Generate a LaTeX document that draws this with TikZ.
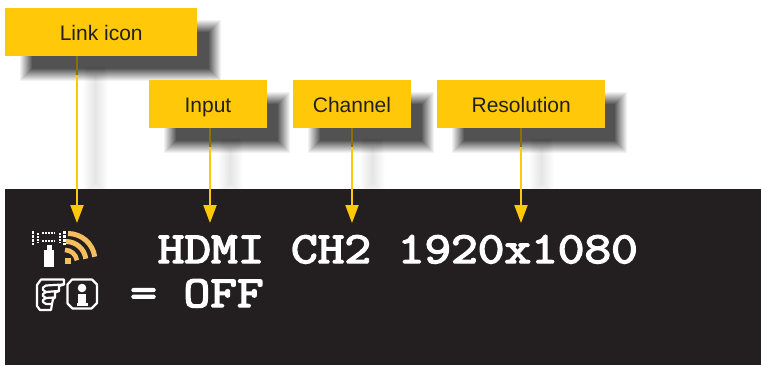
\documentclass[tikz,border=0pt]{standalone}
\usepackage{fontspec}
\setmainfont{Liberation Sans}
\newfontfamily\lcdfont[FakeBold=3.2]{Latin Modern Mono}
\usetikzlibrary{arrows.meta}
\definecolor{callout}{HTML}{FFC90A}
\definecolor{panel}{HTML}{231F20}
\definecolor{wifi}{HTML}{F5BE5F}
\definecolor{labeltext}{HTML}{231F20}
% x1 y1 x2 y2 target-opacity : blurred rectangle with a linear ramp, 13 steps of 1pt
\newcommand{\softrect}[5]{%
  \foreach \stepk in {1,...,13}{
    \pgfmathsetmacro{\blr}{7-\stepk}
    \pgfmathsetmacro{\alphak}{(#5/13)/(1-#5*(\stepk-1)/13)}
    \fill[black,fill opacity=\alphak]
      ({#1-\blr},{#2-\blr}) rectangle ({#3+\blr},{#4+\blr});
  }
}
\tikzset{
  x=1pt,y=-1pt,
  calloutbox/.style={fill=callout,minimum height=48pt,inner sep=0pt,
    text height=16pt,text depth=0pt,
    font=\fontsize{21}{24}\selectfont,text=labeltext,anchor=north west},
  pointer/.style={draw=callout,line width=2pt,
    -{Triangle[length=18pt,width=13pt,fill=callout]}},
  darkend/.style={draw=black!45!callout,line width=2pt},
  lcd/.style={font=\lcdfont\fontsize{51.8}{52}\selectfont,text=white,anchor=base west,
    inner sep=0pt,yscale=0.86,transform shape},
  icon/.style={draw=white,line width=2.2pt,line join=round},
  arcw/.style={draw=wifi},
}
\begin{document}
\begin{tikzpicture}
\useasboundingbox (0,0) rectangle (761,365);
% line shadows
\foreach \lx/\ly in {95/70,230/142,372/142,541/142}{
  \softrect{\lx-6.5}{\ly}{\lx+6.5}{189}{0.11}
}
% box shadows
\softrect{26}{26}{215}{75}{0.68}
\softrect{170}{98}{284}{147}{0.68}
\softrect{314}{98}{428}{147}{0.68}
\softrect{458}{98}{621}{147}{0.68}
% panel
\fill[panel] (5,189) rectangle (761,365);
% callouts
\node[calloutbox,minimum width=192pt] (link) at (5,8) {Link icon};
\node[calloutbox,minimum width=117.5pt] (input) at (149,80) {Input};
\node[calloutbox,minimum width=117.5pt] (channel) at (293,80) {Channel};
\node[calloutbox,minimum width=168pt] (resolution) at (437,80) {Resolution};
% arrow tips
\coordinate (tipA) at (77,223);
\coordinate (tipB) at (210,223);
\coordinate (tipC) at (352,223);
\coordinate (tipD) at (521,223);
\draw[pointer] (tipA |- link.south) -- (tipA);
\draw[pointer] (tipB |- input.south) -- (tipB);
\draw[pointer] (tipC |- channel.south) -- (tipC);
\draw[pointer] (tipD |- resolution.south) -- (tipD);
\draw[darkend] (tipA |- link.south) -- ++(0,19);
\draw[darkend] (tipB |- input.south) -- ++(0,19);
\draw[darkend] (tipC |- channel.south) -- ++(0,19);
\draw[darkend] (tipD |- resolution.south) -- ++(0,19);
% LCD text
\node[lcd] (line1) at (157.5,263) {HDMI CH2 1920x1080};
\node[lcd] (line2) at (130,307) {= OFF};
% antenna icon
\fill[white] (44,250) rectangle (54,267);
\fill[white] (47,245) rectangle (51.5,250);
\draw[white,line width=2.4pt,dash pattern=on 3pt off 1pt] (33,231) -- (33,245);
\draw[white,line width=1.8pt,dash pattern=on 2pt off 1pt] (38,233) -- (38,243);
\draw[white,line width=1.8pt,dash pattern=on 2pt off 1pt] (42,233) -- (55,233);
\draw[white,line width=1.8pt,dash pattern=on 2pt off 1pt] (42,241) -- (55,241);
\draw[white,line width=1.8pt,dash pattern=on 2pt off 1pt] (60,233) -- (60,243);
\draw[white,line width=2.4pt,dash pattern=on 3pt off 1pt] (64.5,231) -- (64.5,245);
% wifi arcs
\begin{scope}[arcw,line cap=butt]
  \draw[line width=5pt] (68,233.5) arc[start angle=-90,end angle=-8,radius=27] ;
  \draw[line width=5pt] (66,241.5) arc[start angle=-90,end angle=-8,radius=20] ;
  \draw[line width=4.6pt] (65,250) arc[start angle=-90,end angle=-8,radius=12] ;
  \fill[wifi] (65,258) rectangle (71,263.5);
\end{scope}
% hand icon
\draw[icon] (37,285) -- (41,279.5) -- (64,279.5) -- (64,284.5) -- (59,286) -- (59,291)
  -- (55,292.5) -- (55,297.5) -- (53,299) -- (52,304) -- (51,310) -- (40,310) -- (37,306) -- cycle;
\draw[icon] (63,284.5) -- (46,285.5) -- (43,287.5) -- (43,290) -- (46,292) -- (58,291);
\draw[icon] (46,292) -- (43,294) -- (43,296) -- (46,298) -- (54,297.5);
\draw[icon] (46,298) -- (43,300) -- (43,302) -- (46,304) -- (52,304);
% info icon
\draw[icon] (72,279.5) -- (92,279.5) -- (97,284.5) -- (97,303) -- (91.5,308.5)
  -- (72.5,308.5) -- (67.5,303.5) -- (67.5,284.5) -- cycle;
\fill[white] (82,288) circle[radius=4.3];
\fill[white] (78,294) rectangle (86,303);
\fill[white] (76.5,303) -- (87.5,303) -- (87.5,306) -- (76.5,306) -- cycle;
\end{tikzpicture}
\end{document}
